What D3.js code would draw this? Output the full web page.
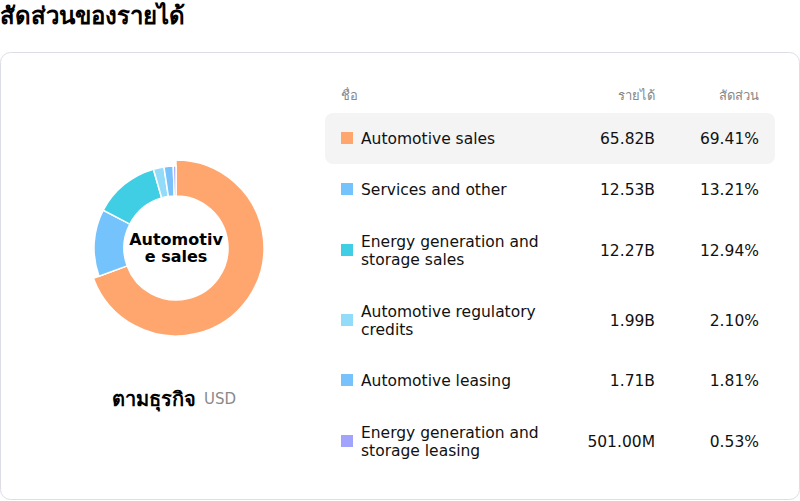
<!DOCTYPE html>
<html><head><meta charset="utf-8">
<script src="https://cdn.jsdelivr.net/npm/d3@7"></script>
<style>
body{margin:0;background:#fff;font-family:"DejaVu Sans","Noto Sans",sans-serif;}
</style></head>
<body><svg id="chart" width="800" height="501"></svg>
<script>
var names = ["Automotive sales", "Services and other", "Energy generation and|storage sales", "Automotive regulatory|credits", "Automotive leasing", "Energy generation and|storage leasing"];
var revenues = ["65.82B", "12.53B", "12.27B", "1.99B", "1.71B", "501.00M"];
var shares = [69.41, 13.21, 12.94, 2.10, 1.81, 0.53];
var colors = ["#ffa56e", "#74c3fc", "#40cee4", "#93dcf9", "#77c2fa", "#a1a3fd"];
var rowY = [138, 189, 250, 320, 380, 441];

var svg = d3.select("#chart");
svg.append("text").attr("x", 0).attr("y", 24).attr("font-size", 24).attr("font-weight", "bold")
  .attr("font-family", "Noto Sans, sans-serif").text("สัดส่วนของรายได้");
svg.append("rect").attr("x", 0.5).attr("y", 52.5).attr("width", 799).attr("height", 447).attr("rx", 10)
  .attr("fill", "#fff").attr("stroke", "#dddde6");

// donut
var cx = 176, cy = 248;
var pie = d3.pie().sort(null).value(d => d)(shares);
var g = svg.append("g").attr("transform", "translate(" + cx + "," + cy + ")");
g.selectAll("path").data(pie).enter().append("path")
  .attr("d", (d, i) => d3.arc().innerRadius(52).outerRadius(i === 0 ? 88 : 82)(d))
  .attr("fill", (d, i) => colors[i]).attr("stroke", "#fff").attr("stroke-width", 1.5);
g.append("text").attr("text-anchor", "middle").attr("y", -3).attr("font-size", 16).attr("font-weight", "bold").text("Automotiv");
g.append("text").attr("text-anchor", "middle").attr("y", 14).attr("font-size", 16).attr("font-weight", "bold").text("e sales");

svg.append("text").attr("x", 196).attr("y", 406).attr("text-anchor", "end").attr("font-size", 20).attr("font-weight", "bold")
  .attr("font-family", "Noto Sans, sans-serif").text("ตามธุรกิจ");
svg.append("text").attr("x", 204).attr("y", 404).attr("font-size", 15).attr("fill", "#8a8a8a").text("USD");

// table
var hf = "Noto Sans, sans-serif";
svg.append("text").attr("x", 341).attr("y", 100).attr("font-size", 13).attr("fill", "#888").attr("font-family", hf).text("ชื่อ");
svg.append("text").attr("x", 655).attr("y", 100).attr("text-anchor", "end").attr("font-size", 13).attr("fill", "#888").attr("font-family", hf).text("รายได้");
svg.append("text").attr("x", 759).attr("y", 100).attr("text-anchor", "end").attr("font-size", 13).attr("fill", "#888").attr("font-family", hf).text("สัดส่วน");
svg.append("rect").attr("x", 325).attr("y", 113).attr("width", 450).attr("height", 51).attr("rx", 8).attr("fill", "#f4f4f4");

var rows = svg.selectAll("g.row").data(names).enter().append("g").attr("class", "row")
  .attr("transform", (d, i) => "translate(0," + rowY[i] + ")");
rows.append("rect").attr("x", 341).attr("y", -6).attr("width", 12).attr("height", 12).attr("fill", (d, i) => colors[i]);
rows.each(function (d, i) {
  var parts = d.split("|");
  var t = d3.select(this).append("text").attr("x", 361).attr("font-size", 15.5).attr("fill", "#111");
  parts.forEach((p, j) => t.append("tspan").attr("x", 361).attr("y", parts.length === 1 ? 6 : (j === 0 ? -3 : 15)).text(p));
});
rows.append("text").attr("x", 655).attr("y", 6).attr("text-anchor", "end").attr("font-size", 15.5).attr("fill", "#111").text((d, i) => revenues[i]);
rows.append("text").attr("x", 759).attr("y", 6).attr("text-anchor", "end").attr("font-size", 15.5).attr("fill", "#111").text((d, i) => shares[i].toFixed(2) + "%");
</script></body></html>
